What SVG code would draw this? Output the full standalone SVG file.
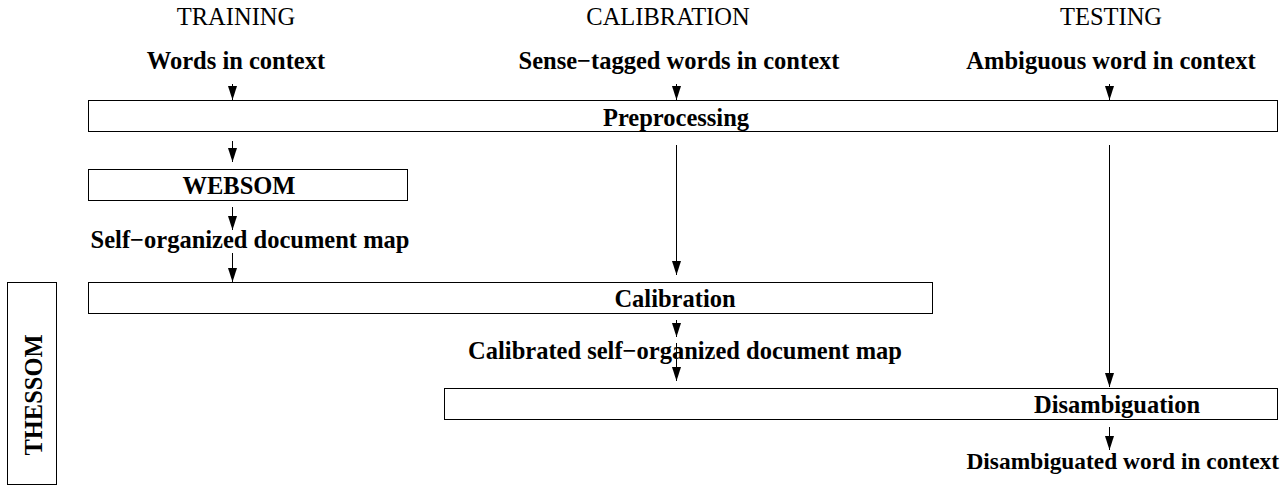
<svg xmlns="http://www.w3.org/2000/svg" width="1288" height="495" viewBox="0 0 1288 495">
<defs>
<style>
.box{fill:#fff;stroke:#000;stroke-width:1}
.conn{stroke:#000;stroke-width:1;fill:none}
.hd{font-family:"Liberation Serif","Times New Roman",serif;font-size:24.5px;text-anchor:middle;fill:#000}
.lb{font-family:"Liberation Serif","Times New Roman",serif;font-size:24.5px;font-weight:bold;text-anchor:middle;fill:#000}
</style>
<marker id="ah" viewBox="0 0 14 9" refX="14" refY="4.5" markerWidth="14" markerHeight="9" markerUnits="userSpaceOnUse" orient="auto">
<path d="M0,0 L14,4.5 L0,9 z" fill="#000"/>
</marker>
</defs>
<rect width="1288" height="495" fill="#fff"/>
<g id="headers">
<text class="hd" x="236" y="25">TRAINING</text>
<text class="hd" x="668" y="25">CALIBRATION</text>
<text class="hd" x="1111" y="25">TESTING</text>
</g>
<g id="inputs">
<text class="lb" x="236" y="69">Words in context</text>
<text class="lb" x="679" y="69">Sense−tagged words in context</text>
<text class="lb" x="1111" y="69">Ambiguous word in context</text>
</g>
<g id="preprocessing">
<rect class="box" x="88.5" y="100.5" width="1189" height="31"/>
<text class="lb" x="676" y="126">Preprocessing</text>
</g>
<g id="websom">
<rect class="box" x="88.5" y="169.5" width="319" height="31"/>
<text class="lb" x="239" y="194">WEBSOM</text>
</g>
<g id="som-map">
<text class="lb" x="250" y="248">Self−organized document map</text>
</g>
<g id="calibration">
<rect class="box" x="88.5" y="282.5" width="844" height="31"/>
<text class="lb" x="675" y="307">Calibration</text>
</g>
<g id="calibrated-map">
<text class="lb" x="685" y="359">Calibrated self−organized document map</text>
</g>
<g id="disambiguation">
<rect class="box" x="444.5" y="388.5" width="833" height="31"/>
<text class="lb" x="1117" y="413">Disambiguation</text>
</g>
<g id="output">
<text class="lb" x="1279" y="469" style="text-anchor:end;font-size:23.4px">Disambiguated word in context</text>
</g>
<g id="thessom">
<rect class="box" x="7.5" y="282.5" width="49" height="202"/>
<text class="lb" transform="translate(42,395) rotate(-90)" x="0" y="0">THESSOM</text>
</g>
<g id="connectors">
<line class="conn" x1="232.5" y1="84" x2="232.5" y2="100" marker-end="url(#ah)"/>
<line class="conn" x1="676.5" y1="84" x2="676.5" y2="100" marker-end="url(#ah)"/>
<line class="conn" x1="1109.5" y1="84" x2="1109.5" y2="100" marker-end="url(#ah)"/>
<line class="conn" x1="232.5" y1="141" x2="232.5" y2="162" marker-end="url(#ah)"/>
<line class="conn" x1="676.5" y1="145" x2="676.5" y2="275" marker-end="url(#ah)"/>
<line class="conn" x1="1109.5" y1="145" x2="1109.5" y2="387" marker-end="url(#ah)"/>
<line class="conn" x1="232.5" y1="207" x2="232.5" y2="230" marker-end="url(#ah)"/>
<line class="conn" x1="232.5" y1="253" x2="232.5" y2="282" marker-end="url(#ah)"/>
<line class="conn" x1="676.5" y1="320" x2="676.5" y2="337" marker-end="url(#ah)"/>
<line class="conn" x1="676.5" y1="343" x2="676.5" y2="381" marker-end="url(#ah)"/>
<line class="conn" x1="1109.5" y1="427" x2="1109.5" y2="450" marker-end="url(#ah)"/>
</g>
</svg>
